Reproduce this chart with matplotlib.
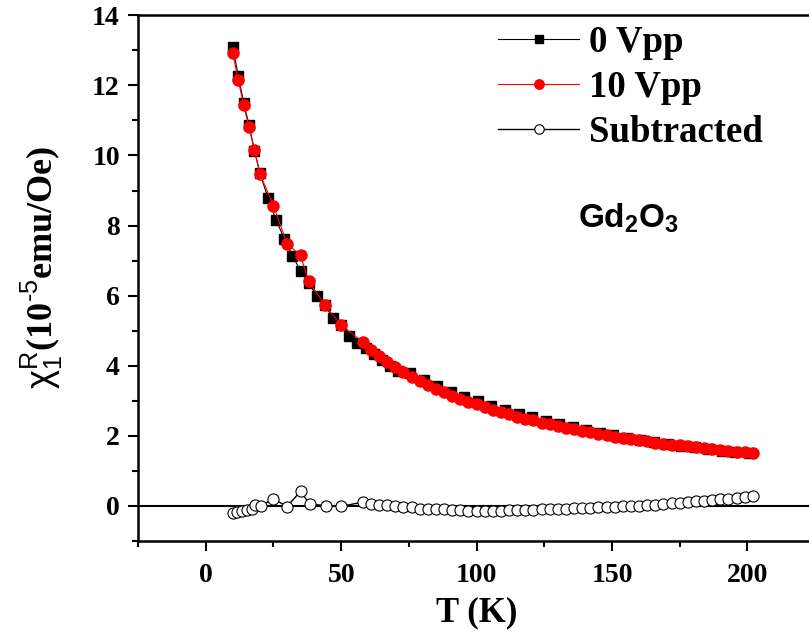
import matplotlib
matplotlib.use("Agg")
import matplotlib.pyplot as plt
from matplotlib.ticker import MultipleLocator

plt.rcParams['mathtext.fontset'] = 'custom'
plt.rcParams['mathtext.rm'] = 'Liberation Sans'
plt.rcParams['mathtext.it'] = 'Liberation Sans:italic'
plt.rcParams['mathtext.bf'] = 'Liberation Sans:bold'

# chi_1^R vs temperature, 0 Vpp drive
T_0vpp = [10, 12, 14, 16, 18, 20, 23, 26, 29, 32, 35, 38, 41, 44, 47, 50, 53, 56, 59, 62,
          65, 68, 71, 75.5, 80.5, 85.5, 90.5, 95.5, 100.5, 105.5, 110.5, 115.5, 120.5,
          125.5, 130.5, 135.5, 140.5, 145.5, 150.5, 155.5, 160.5, 165.5, 170.5, 175.5,
          180.5, 185.5, 190.5, 195.5, 200.5]
chi_0vpp = [13.08, 12.28, 11.51, 10.87, 10.13, 9.50, 8.78, 8.15, 7.63, 7.14, 6.71, 6.36,
            5.99, 5.72, 5.37, 5.17, 4.86, 4.65, 4.51, 4.33, 4.16, 3.98, 3.86, 3.80, 3.60,
            3.42, 3.26, 3.12, 2.99, 2.86, 2.75, 2.63, 2.53, 2.43, 2.35, 2.26, 2.16, 2.09,
            2.02, 1.95, 1.89, 1.83, 1.77, 1.72, 1.67, 1.62, 1.58, 1.54, 1.50]

# chi_1^R vs temperature, 10 Vpp drive
T_10vpp = [10, 12, 14, 16, 18, 20, 25, 30, 35, 38, 44, 50, 58, 61, 64, 67, 70, 73, 76, 79,
           82, 85, 88, 91, 94, 97, 100, 103, 106, 109, 112, 115, 118, 121, 124, 127, 130,
           133, 136, 139, 142, 145, 148, 151, 154, 157, 160, 163, 166, 169, 172, 175, 178,
           181, 184, 187, 190, 193, 196, 199, 202]
chi_10vpp = [12.92, 12.14, 11.45, 10.80, 10.16, 9.48, 8.57, 7.48, 7.15, 6.41, 5.73, 5.16,
             4.68, 4.46, 4.28, 4.12, 3.97, 3.83, 3.69, 3.57, 3.45, 3.34, 3.24, 3.15, 3.06,
             2.98, 2.90, 2.82, 2.75, 2.68, 2.61, 2.55, 2.49, 2.44, 2.38, 2.33, 2.28, 2.23,
             2.19, 2.14, 2.10, 2.06, 2.02, 1.98, 1.95, 1.91, 1.88, 1.85, 1.81, 1.78, 1.75,
             1.73, 1.70, 1.67, 1.65, 1.62, 1.60, 1.57, 1.55, 1.53, 1.51]

# difference between the two drives
T_sub = [10, 11.7, 13.5, 15.4, 17, 18.2, 20.3, 25, 30, 35, 38.4, 44.5, 50, 58, 61, 64, 67,
         70, 73, 76, 79, 82, 85, 88, 91, 94, 97, 100, 103, 106, 109, 112, 115, 118, 121,
         124, 127, 130, 133, 136, 139, 142, 145, 148, 151, 154, 157, 160, 163, 166, 169,
         172, 175, 178, 181, 184, 187, 190, 193, 196, 199, 202]
chi_sub = [-0.21, -0.16, -0.13, -0.12, -0.10, 0.02, 0.00, 0.21, -0.02, 0.42, 0.05, 0.01,
           -0.01, 0.11, 0.07, 0.03, 0.02, 0.00, -0.02, -0.04, -0.08, -0.09, -0.10, -0.10,
           -0.12, -0.12, -0.14, -0.15, -0.14, -0.13, -0.13, -0.12, -0.12, -0.11, -0.11,
           -0.10, -0.10, -0.09, -0.08, -0.07, -0.06, -0.05, -0.04, -0.03, -0.02, -0.01,
           0.00, 0.01, 0.03, 0.04, 0.06, 0.08, 0.09, 0.11, 0.13, 0.15, 0.17, 0.19, 0.21,
           0.23, 0.25, 0.28]

serif = 'Liberation Serif'

fig = plt.figure(figsize=(8.09, 6.35), dpi=100)
ax = fig.add_axes([0.1706, 0.148, 0.837, 0.828])

ax.axhline(0, color='black', lw=1.5, zorder=1)
ax.plot(T_0vpp, chi_0vpp, color='black', lw=0.8, marker='s', ms=7.5,
        mfc='black', mec='black', label='0 Vpp', zorder=2)
ax.plot(T_10vpp, chi_10vpp, color='red', lw=0.8, marker='o', ms=8,
        mfc='red', mec='red', label='10 Vpp', zorder=3)
ax.plot(T_sub, chi_sub, color='black', lw=1.0, marker='o', ms=8,
        mfc='white', mec='black', mew=0.8, label='Subtracted', zorder=4)

ax.set_xlim(-25, 225)
ax.set_ylim(-1, 14)
ax.xaxis.set_major_locator(MultipleLocator(50))
ax.xaxis.set_minor_locator(MultipleLocator(25))
ax.yaxis.set_major_locator(MultipleLocator(2))
ax.yaxis.set_minor_locator(MultipleLocator(1))
ax.tick_params(which='both', direction='out', width=1.5, top=False, right=False)
ax.tick_params(which='major', length=7)
ax.tick_params(which='minor', length=4)
ax.tick_params(axis='x', pad=9)
ax.tick_params(axis='y', pad=6)
for lab in ax.get_xticklabels() + ax.get_yticklabels():
    lab.set_fontfamily(serif)
    lab.set_fontweight('bold')
    lab.set_fontsize(20)
for s in ['left', 'bottom', 'top']:
    ax.spines[s].set_linewidth(1.8)
ax.spines['right'].set_visible(False)

ax.set_xlabel('T (K)', fontfamily=serif, fontweight='bold', fontsize=25)
ax.xaxis.set_label_coords(0.5, -0.105)
ax.set_ylabel(r'$\mathrm{\chi}_1^{\mathrm{R}}$(10$^{\text{-5}}$emu/Oe)', fontfamily=serif,
              fontweight='bold', fontsize=26)
ax.yaxis.set_label_coords(-0.108, 0.52)

ax.text(156, 8.2, r'Gd$_\mathbf{2}$O$_\mathbf{3}$', fontfamily='Liberation Sans',
        fontweight='bold', fontsize=24, ha='center', va='center')

ax.legend(loc='upper left', bbox_to_anchor=(0.532, 0.982), frameon=False,
          prop={'family': serif, 'weight': 'bold', 'size': 26.5},
          handlelength=2.2, handletextpad=0.27, labelspacing=0.27,
          borderpad=0, borderaxespad=0, markerscale=0.85)

fig.savefig('out.png', dpi=100)
